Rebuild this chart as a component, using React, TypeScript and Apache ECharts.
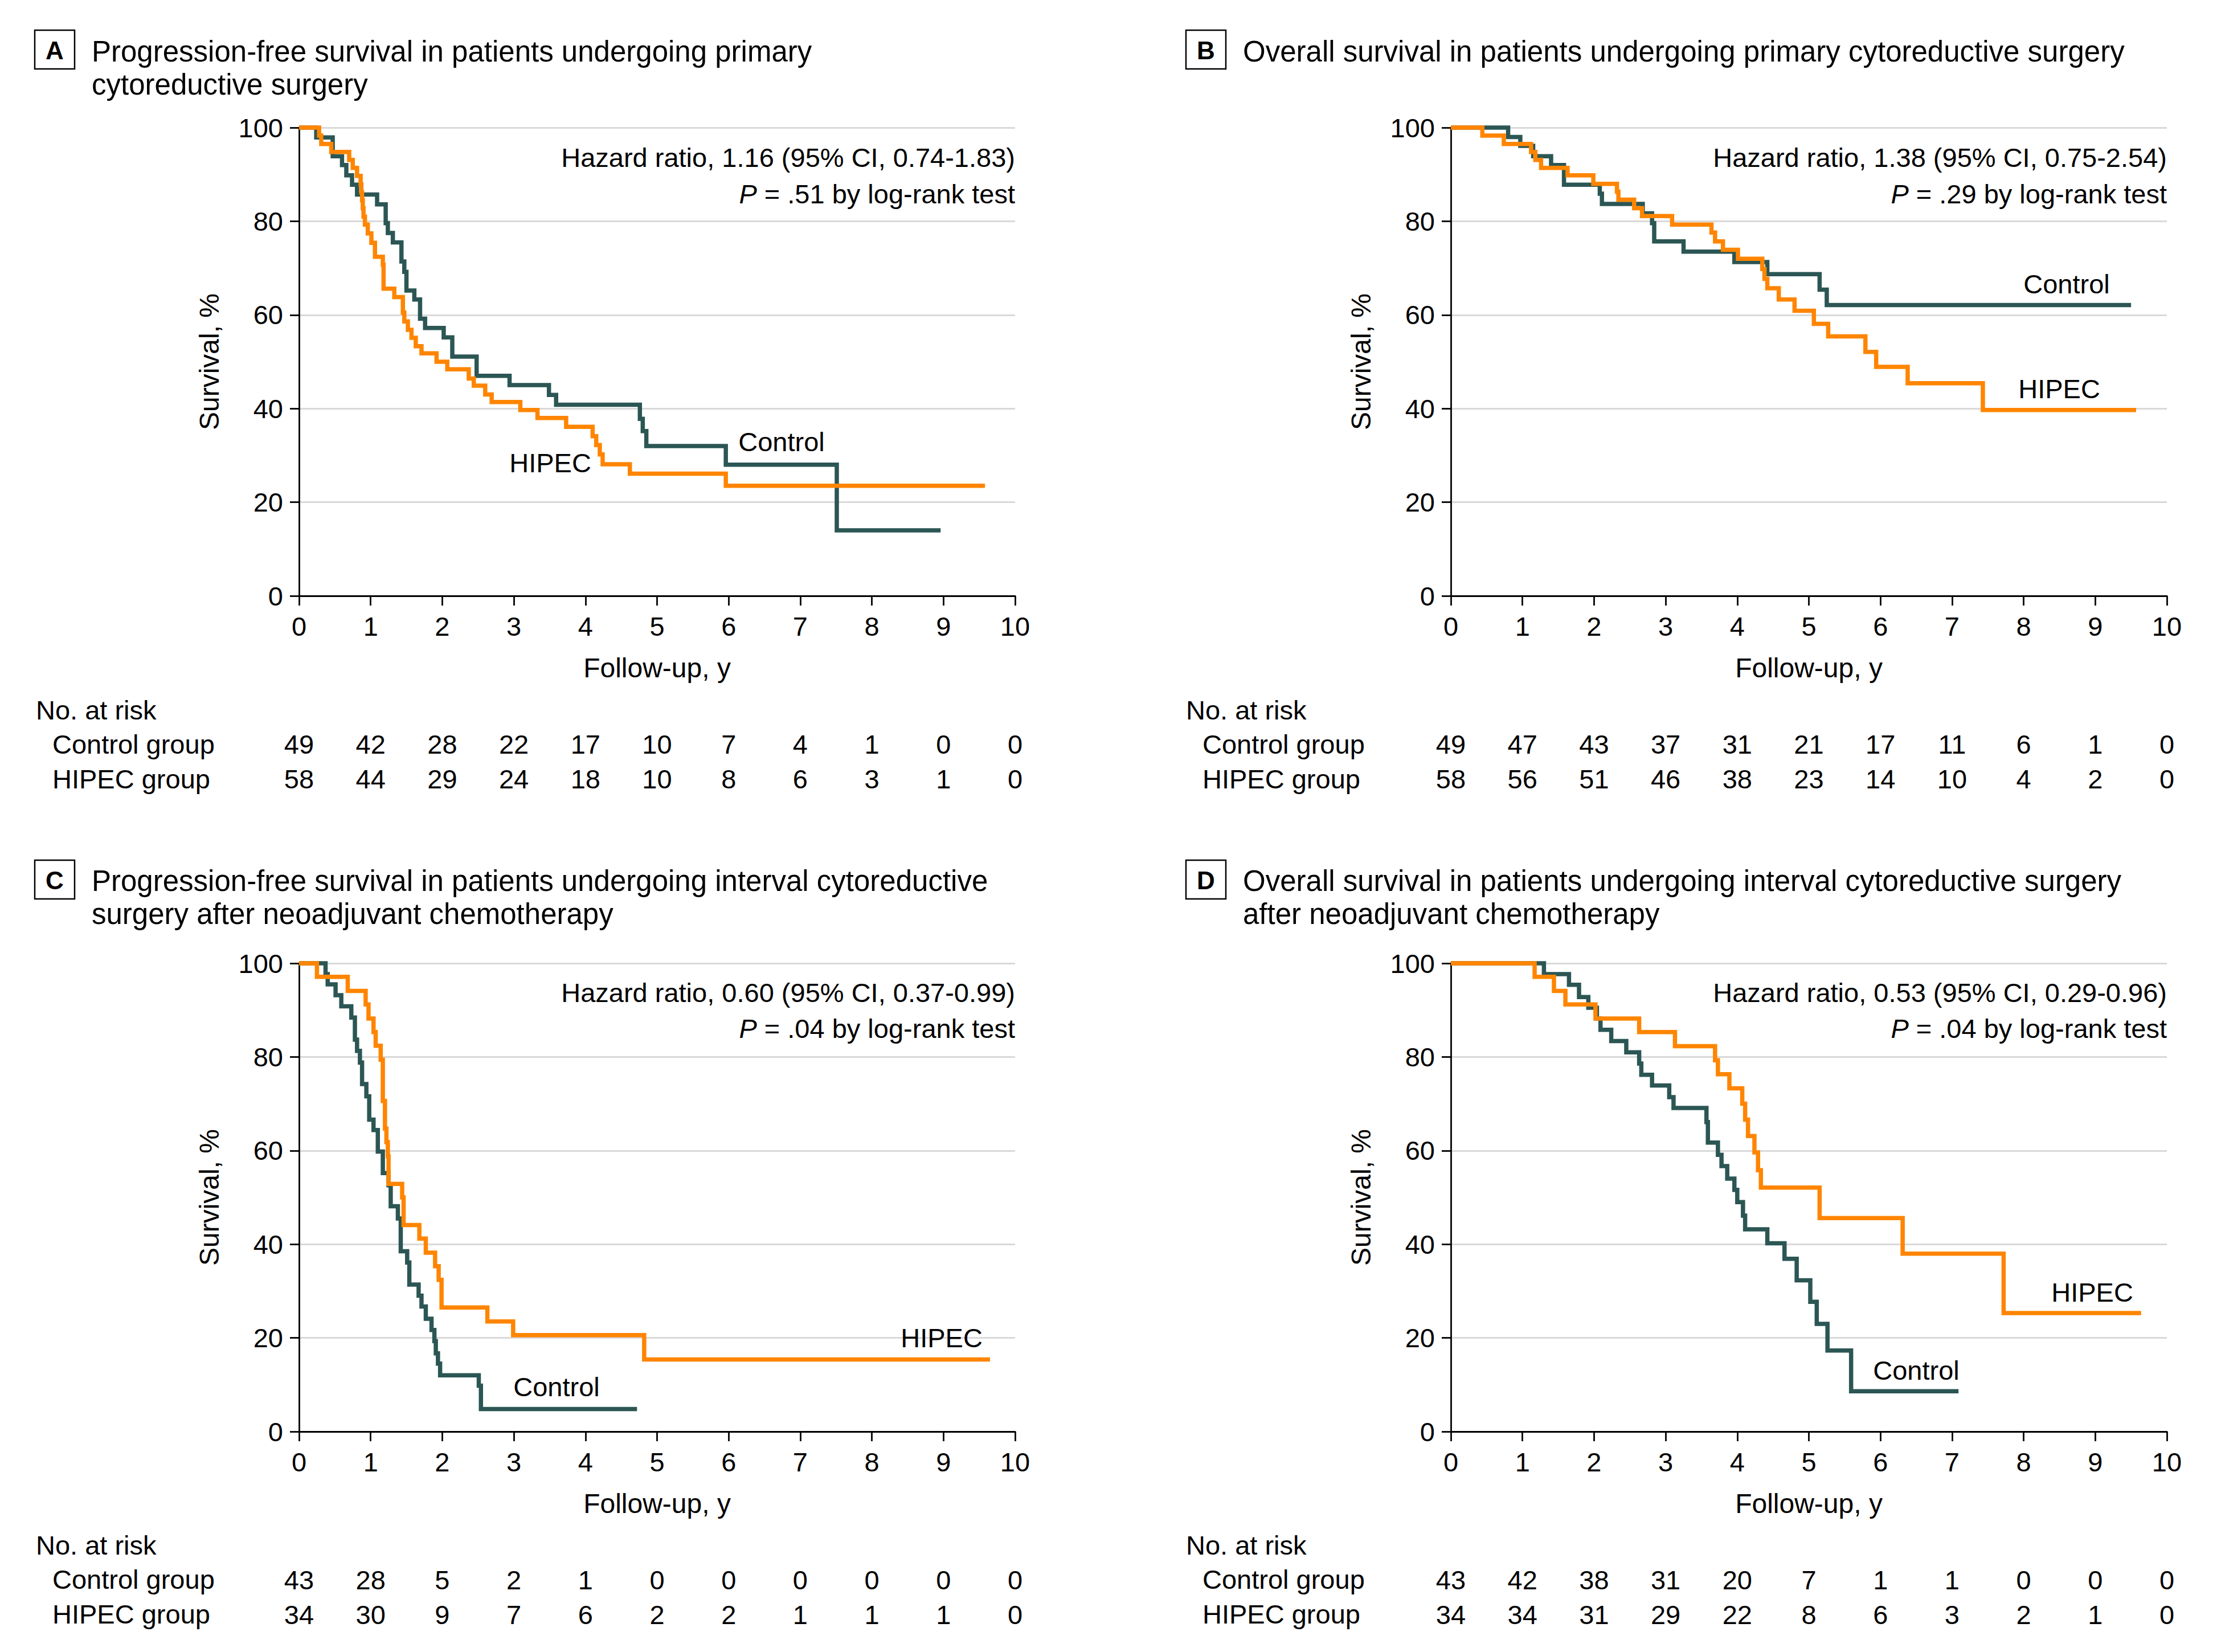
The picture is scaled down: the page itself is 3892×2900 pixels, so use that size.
import React, { useEffect, useRef } from "react";
import * as echarts from "echarts";

const FONT = '"Liberation Sans", Arial, Helvetica, sans-serif';
const TEAL = "#2b5654";
const ORANGE = "#ff8500";
const GRID_GRAY = "#d9d9d9";

// ---------- Panel A: PFS, primary cytoreductive surgery ----------
const aControlTime = [0, 0.24, 0.47, 0.6, 0.66, 0.74, 0.81, 1.09, 1.21, 1.24, 1.31, 1.43, 1.47, 1.5, 1.61, 1.69, 1.76, 2.02, 2.14, 2.48, 2.94, 3.49, 3.59, 4.76, 4.8, 4.85, 5.96, 7.51, 8.96];
const aControlSurv = [100, 97.9, 93.9, 92.0, 89.8, 87.8, 85.7, 83.6, 79.6, 77.5, 75.5, 71.4, 69.2, 65.2, 63.3, 59.2, 57.2, 55.2, 51.1, 47.0, 45.0, 42.9, 40.8, 37.8, 35.2, 32.0, 28.0, 14.0, 14.0];
const aHipecTime = [0, 0.28, 0.31, 0.45, 0.7, 0.75, 0.81, 0.86, 0.87, 0.88, 0.89, 0.9, 0.92, 0.96, 1.01, 1.06, 1.17, 1.18, 1.33, 1.45, 1.47, 1.52, 1.57, 1.63, 1.71, 1.92, 2.07, 2.37, 2.44, 2.6, 2.69, 3.09, 3.33, 3.73, 4.1, 4.15, 4.2, 4.24, 4.62, 5.96, 9.58];
const aHipecSurv = [100, 98.3, 96.5, 94.8, 93.1, 91.4, 89.7, 87.9, 86.2, 84.5, 82.8, 81.0, 79.3, 77.4, 75.4, 72.4, 70.7, 65.6, 63.8, 60.5, 58.6, 56.8, 55.1, 53.3, 51.8, 50.0, 48.4, 46.4, 44.9, 43.0, 41.4, 39.7, 38.0, 36.1, 34.1, 32.2, 30.2, 28.1, 26.1, 23.5, 23.5];
const aRiskControl = [49, 42, 28, 22, 17, 10, 7, 4, 1, 0, 0];
const aRiskHipec = [58, 44, 29, 24, 18, 10, 8, 6, 3, 1, 0];

// ---------- Panel B: OS, primary cytoreductive surgery ----------
const bControlTime = [0, 0.8, 0.97, 1.15, 1.4, 1.58, 2.08, 2.11, 2.68, 2.81, 2.84, 3.25, 3.96, 4.42, 5.15, 5.25, 9.5];
const bControlSurv = [100, 98.0, 96.1, 93.9, 92.0, 87.8, 85.9, 83.7, 81.7, 79.6, 75.7, 73.5, 71.3, 68.7, 65.4, 62.1, 62.1];
const bHipecTime = [0, 0.44, 0.74, 1.12, 1.18, 1.26, 1.63, 1.99, 2.32, 2.34, 2.56, 2.67, 3.09, 3.64, 3.69, 3.8, 4.01, 4.35, 4.38, 4.42, 4.58, 4.8, 5.07, 5.27, 5.79, 5.94, 6.38, 7.43, 9.57];
const bHipecSurv = [100, 98.3, 96.5, 94.8, 93.1, 91.4, 89.8, 88.0, 86.3, 84.6, 82.8, 81.1, 79.3, 77.6, 75.7, 73.9, 72.0, 69.8, 67.7, 65.7, 63.3, 60.9, 58.1, 55.4, 52.1, 48.9, 45.4, 39.7, 39.7];
const bRiskControl = [49, 47, 43, 37, 31, 21, 17, 11, 6, 1, 0];
const bRiskHipec = [58, 56, 51, 46, 38, 23, 14, 10, 4, 2, 0];

// ---------- Panel C: PFS, interval cytoreductive surgery ----------
const cControlTime = [0, 0.37, 0.4, 0.51, 0.59, 0.73, 0.78, 0.81, 0.85, 0.88, 0.94, 0.98, 1.04, 1.1, 1.17, 1.25, 1.28, 1.38, 1.42, 1.51, 1.54, 1.67, 1.71, 1.77, 1.85, 1.89, 1.91, 1.94, 1.97, 2.51, 2.54, 4.72];
const cControlSurv = [100, 97.7, 95.5, 93.2, 90.8, 88.4, 83.7, 81.3, 78.8, 74.2, 71.6, 66.6, 64.4, 59.8, 55.2, 52.6, 48.1, 45.5, 38.5, 36.1, 31.4, 29.0, 26.7, 24.1, 21.7, 19.3, 16.7, 14.5, 12.0, 9.8, 4.8, 4.8];
const cHipecTime = [0, 0.25, 0.68, 0.93, 0.97, 1.04, 1.07, 1.14, 1.17, 1.2, 1.22, 1.24, 1.25, 1.44, 1.46, 1.68, 1.77, 1.9, 1.95, 1.99, 2.63, 2.99, 4.82, 9.65];
const cHipecSurv = [100, 97.1, 94.1, 91.2, 88.2, 85.3, 82.4, 79.4, 70.6, 64.7, 61.8, 58.8, 52.9, 50.0, 44.1, 41.2, 38.2, 35.3, 32.4, 26.5, 23.5, 20.6, 15.4, 15.4];
const cRiskControl = [43, 28, 5, 2, 1, 0, 0, 0, 0, 0, 0];
const cRiskHipec = [34, 30, 9, 7, 6, 2, 2, 1, 1, 1, 0];

// ---------- Panel D: OS, interval cytoreductive surgery ----------
const dControlTime = [0, 1.3, 1.65, 1.79, 1.92, 2.04, 2.09, 2.24, 2.45, 2.63, 2.66, 2.81, 3.05, 3.11, 3.57, 3.59, 3.73, 3.78, 3.86, 3.96, 4.0, 4.08, 4.11, 4.42, 4.66, 4.83, 5.02, 5.11, 5.26, 5.59, 7.09];
const dControlSurv = [100, 97.7, 95.4, 92.8, 90.5, 88.2, 85.8, 83.4, 81.0, 78.6, 76.2, 73.9, 71.4, 69.1, 66.1, 61.7, 59.1, 56.7, 54.0, 51.6, 49.0, 46.1, 43.2, 40.2, 36.9, 32.3, 27.7, 23.0, 17.3, 8.6, 8.6];
const dHipecTime = [0, 1.17, 1.44, 1.6, 2.02, 2.63, 3.13, 3.69, 3.73, 3.89, 4.07, 4.11, 4.15, 4.24, 4.29, 4.33, 5.15, 6.31, 7.72, 9.64];
const dHipecSurv = [100, 97.1, 94.1, 91.2, 88.2, 85.3, 82.3, 79.3, 76.3, 73.3, 70.0, 66.6, 63.1, 59.6, 55.8, 52.1, 45.6, 38.0, 25.3, 25.3];
const dRiskControl = [43, 42, 38, 31, 20, 7, 1, 1, 0, 0, 0];
const dRiskHipec = [34, 34, 31, 29, 22, 8, 6, 3, 2, 1, 0];

const xTicks = [0, 10, 1]; // min, max, interval (years)
const yTicks = [0, 100, 20]; // min, max, interval (%)

const zip = (t: number[], s: number[]) => t.map((v, i) => [v, s[i]]);

type Panel = {
  letter: string;
  title: string[];
  hr: string;
  p: string;
  ctrl: number[][];
  hipec: number[][];
  riskC: number[];
  riskH: number[];
  left: number;
  top: number;
  labelLeft: number;
  titleLeft: number;
  boxLeft: number;
  boxTop: number;
  titleY: number[];
  hrY: number[];
  ctrlLabel: number[];
  hipecLabel: number[];
  riskY: number;
};

const panels: Panel[] = [
  {
    letter: "A",
    title: ["Progression-free survival in patients undergoing primary", "cytoreductive surgery"],
    hr: "Hazard ratio, 1.16 (95% CI, 0.74-1.83)",
    p: " = .51 by log-rank test",
    ctrl: zip(aControlTime, aControlSurv),
    hipec: zip(aHipecTime, aHipecSurv),
    riskC: aRiskControl,
    riskH: aRiskHipec,
    left: 525, top: 224, labelLeft: 63, titleLeft: 161, boxLeft: 61, boxTop: 53,
    titleY: [90, 148], hrY: [276, 340], ctrlLabel: [1372, 775], hipecLabel: [966, 812], riskY: 1246,
  },
  {
    letter: "B",
    title: ["Overall survival in patients undergoing primary cytoreductive surgery"],
    hr: "Hazard ratio, 1.38 (95% CI, 0.75-2.54)",
    p: " = .29 by log-rank test",
    ctrl: zip(bControlTime, bControlSurv),
    hipec: zip(bHipecTime, bHipecSurv),
    riskC: bRiskControl,
    riskH: bRiskHipec,
    left: 2547, top: 224, labelLeft: 2082, titleLeft: 2182, boxLeft: 2082, boxTop: 53,
    titleY: [90], hrY: [276, 340], ctrlLabel: [3628, 498], hipecLabel: [3615, 682], riskY: 1246,
  },
  {
    letter: "C",
    title: ["Progression-free survival in patients undergoing interval cytoreductive", "surgery after neoadjuvant chemotherapy"],
    hr: "Hazard ratio, 0.60 (95% CI, 0.37-0.99)",
    p: " = .04 by log-rank test",
    ctrl: zip(cControlTime, cControlSurv),
    hipec: zip(cHipecTime, cHipecSurv),
    riskC: cRiskControl,
    riskH: cRiskHipec,
    left: 525, top: 1691, labelLeft: 63, titleLeft: 161, boxLeft: 61, boxTop: 1510,
    titleY: [1546, 1604], hrY: [1742, 1805], ctrlLabel: [977, 2434], hipecLabel: [1653, 2348], riskY: 2712,
  },
  {
    letter: "D",
    title: ["Overall survival in patients undergoing interval cytoreductive surgery", "after neoadjuvant chemotherapy"],
    hr: "Hazard ratio, 0.53 (95% CI, 0.29-0.96)",
    p: " = .04 by log-rank test",
    ctrl: zip(dControlTime, dControlSurv),
    hipec: zip(dHipecTime, dHipecSurv),
    riskC: dRiskControl,
    riskH: dRiskHipec,
    left: 2547, top: 1691, labelLeft: 2082, titleLeft: 2182, boxLeft: 2082, boxTop: 1510,
    titleY: [1546, 1604], hrY: [1742, 1805], ctrlLabel: [3364, 2405], hipecLabel: [3673, 2268], riskY: 2712,
  },
];

const PW = 1257;
const PH = 822;
const BODY = 47;
const TITLE = 51;

function txt(x: number, y: number, text: string, extra: any = {}) {
  return {
    type: "text",
    x,
    y,
    silent: true,
    z: 100,
    style: {
      text,
      fill: "#000",
      fontSize: BODY,
      fontFamily: FONT,
      align: "left",
      verticalAlign: "middle",
      ...extra,
    },
  };
}

function buildOption() {
  const grid: any[] = [];
  const xAxis: any[] = [];
  const yAxis: any[] = [];
  const series: any[] = [];
  const graphic: any[] = [];
  const labelStyle = { fontSize: BODY, fontFamily: FONT, color: "#000" };

  panels.forEach((p, i) => {
    grid.push({ left: p.left, top: p.top, width: PW, height: PH });
    xAxis.push({
      type: "value",
      gridIndex: i,
      min: xTicks[0],
      max: xTicks[1],
      interval: xTicks[2],
      name: "Follow-up, y",
      nameLocation: "middle",
      nameGap: 126,
      nameTextStyle: { fontSize: 48, fontFamily: FONT, color: "#000", verticalAlign: "middle" },
      axisLine: { show: true, onZero: false, lineStyle: { color: "#000", width: 2.8 } },
      axisTick: { show: true, length: 17, lineStyle: { color: "#000", width: 2.8 } },
      axisLabel: { ...labelStyle, margin: 53, verticalAlign: "middle", showMinLabel: true, showMaxLabel: true },
      splitLine: { show: false },
    });
    [p.riskC, p.riskH].forEach((risk, k) => {
      xAxis.push({
        type: "value",
        gridIndex: i,
        min: xTicks[0],
        max: xTicks[1],
        interval: xTicks[2],
        position: "bottom",
        offset: k === 0 ? 260 : 321,
        axisLine: { show: false },
        axisTick: { show: false },
        splitLine: { show: false },
        axisLabel: {
          ...labelStyle,
          margin: 0,
          verticalAlign: "middle",
          showMinLabel: true,
          showMaxLabel: true,
          formatter: (v: number) => String(risk[Math.round(v)]),
        },
      });
    });
    yAxis.push({
      type: "value",
      gridIndex: i,
      min: yTicks[0],
      max: yTicks[1],
      interval: yTicks[2],
      name: "Survival, %",
      nameLocation: "middle",
      nameGap: 158,
      nameTextStyle: { fontSize: 48, fontFamily: FONT, color: "#000", verticalAlign: "middle" },
      axisLine: { show: true, lineStyle: { color: "#000", width: 2.8 } },
      axisTick: { show: true, length: 16, lineStyle: { color: "#000", width: 2.8 } },
      axisLabel: { ...labelStyle, margin: 28 },
      splitLine: { show: true, lineStyle: { color: GRID_GRAY, width: 3.2 } },
    });
    const mk = (name: string, data: number[][], color: string, z: number) => ({
      type: "line",
      name,
      xAxisIndex: i * 3,
      yAxisIndex: i,
      data,
      step: "end",
      showSymbol: false,
      symbol: "none",
      clip: false,
      silent: true,
      z,
      lineStyle: { color, width: 7.5, cap: "butt", join: "miter" },
    });
    series.push(mk("Control", p.ctrl, TEAL, 3));
    series.push(mk("HIPEC", p.hipec, ORANGE, 4));

    // panel letter box
    graphic.push({
      type: "rect",
      silent: true,
      shape: { x: p.boxLeft, y: p.boxTop, width: 70, height: 68 },
      style: { fill: "#fff", stroke: "#000", lineWidth: 2.5 },
    });
    graphic.push(txt(p.boxLeft + 35, p.boxTop + 35, p.letter, { align: "center", fontWeight: "bold", fontSize: 44 }));
    p.title.forEach((line, k) => graphic.push(txt(p.titleLeft, p.titleY[k], line, { fontSize: TITLE })));
    const right = p.left + PW;
    graphic.push(txt(right, p.hrY[0], p.hr, { align: "right" }));
    graphic.push({
      type: "text",
      x: right,
      y: p.hrY[1],
      silent: true,
      z: 100,
      style: {
        text: "{i|P}" + p.p,
        fill: "#000",
        fontSize: BODY,
        fontFamily: FONT,
        align: "right",
        verticalAlign: "middle",
        rich: { i: { fontStyle: "italic", fontSize: BODY, fontFamily: FONT, fill: "#000" } },
      },
    });
    graphic.push(txt(p.ctrlLabel[0], p.ctrlLabel[1], "Control", { align: "center" }));
    graphic.push(txt(p.hipecLabel[0], p.hipecLabel[1], "HIPEC", { align: "center" }));
    graphic.push(txt(p.labelLeft, p.riskY, "No. at risk"));
    graphic.push(txt(p.labelLeft + 29, p.riskY + 60, "Control group"));
    graphic.push(txt(p.labelLeft + 29, p.riskY + 121, "HIPEC group"));
  });

  return {
    animation: false,
    backgroundColor: "#ffffff",
    textStyle: { fontFamily: FONT },
    grid,
    xAxis,
    yAxis,
    series,
    graphic: { elements: graphic },
  };
}

export default function App() {
  const ref = useRef<HTMLDivElement>(null);
  useEffect(() => {
    if (!ref.current) return;
    const chart = echarts.init(ref.current, undefined, { renderer: "svg" });
    chart.setOption(buildOption() as any);
    return () => chart.dispose();
  }, []);
  return (
    <div
      ref={ref}
      style={{ position: "absolute", left: 0, top: 0, width: 3892, height: 2900, background: "#fff" }}
    />
  );
}
